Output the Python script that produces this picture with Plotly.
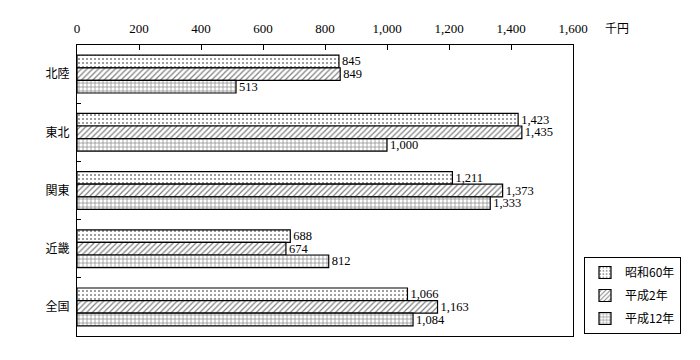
import plotly.graph_objects as go

categories = ["北陸", "東北", "関東", "近畿", "全国"]
series_names = ["昭和60年", "平成2年", "平成12年"]
s60 = [845, 1423, 1211, 688, 1066]
h2 = [849, 1435, 1373, 674, 1163]
h12 = [513, 1000, 1333, 812, 1084]
patterns = [".", "/", "+"]
pattern_sizes = [4, 4, 4]
pattern_solidity = [0.2, 0.3, 0.3]

# page body has an 8px margin: compensate so the plot lands where the reference does
OFF = 8
W, H = 700 - OFF, 360 - OFF

fig = go.Figure()
for name, vals, pat, ps, sol in zip(series_names, [s60, h2, h12], patterns, pattern_sizes, pattern_solidity):
    fig.add_trace(go.Bar(
        y=categories, x=vals, name=name, orientation="h", legendgroup=name,
        marker=dict(color="white", line=dict(color="black", width=1.2),
                    pattern=dict(shape=pat, fgcolor="black", bgcolor="white",
                                 size=ps, solidity=sol)),
        text=[f"{v:,}" for v in vals], textposition="outside", constraintext="none",
        textfont=dict(family="Liberation Serif, DejaVu Serif, serif", size=12.5, color="black"),
        cliponaxis=False,
    ))

fig.update_layout(
    width=W, height=H,
    margin=dict(l=77 - OFF, r=W - (573 - OFF), t=45 - OFF, b=H - (336 - OFF), autoexpand=False),
    paper_bgcolor="white", plot_bgcolor="white",
    barmode="group", bargap=0.35, bargroupgap=0,
    font=dict(family="Noto Sans CJK JP, sans-serif", size=12, color="black"),
    showlegend=True,
    legend=dict(x=(584 - 573) / 496 + 1.0, y=(336 - 257) / 291, xanchor="left", yanchor="top",
                bordercolor="black", borderwidth=1, bgcolor="white",
                font=dict(size=12), tracegroupgap=4, itemwidth=30),
    xaxis=dict(side="top", range=[0, 1600], dtick=200, tickformat=",",
               ticks="inside", ticklen=5, tickcolor="black", automargin=False,
               showline=True, linecolor="black", linewidth=1, mirror=True,
               showgrid=False, zeroline=False, ticklabelstandoff=6,
               tickfont=dict(family="Liberation Serif, DejaVu Serif, serif", size=13)),
    yaxis=dict(autorange="reversed", tickson="boundaries", ticks="inside",
               ticklen=4, tickcolor="black", showline=True, linecolor="black",
               linewidth=1, mirror=True, showgrid=False, ticklabelstandoff=4,
               automargin=False, tickfont=dict(size=12)),
)
fig.add_annotation(text="千円", xref="paper", yref="paper", x=1.0, y=1.0,
                   xshift=30, yshift=18, xanchor="left", yanchor="middle", showarrow=False,
                   font=dict(size=12))

fig.write_html("out.html")
